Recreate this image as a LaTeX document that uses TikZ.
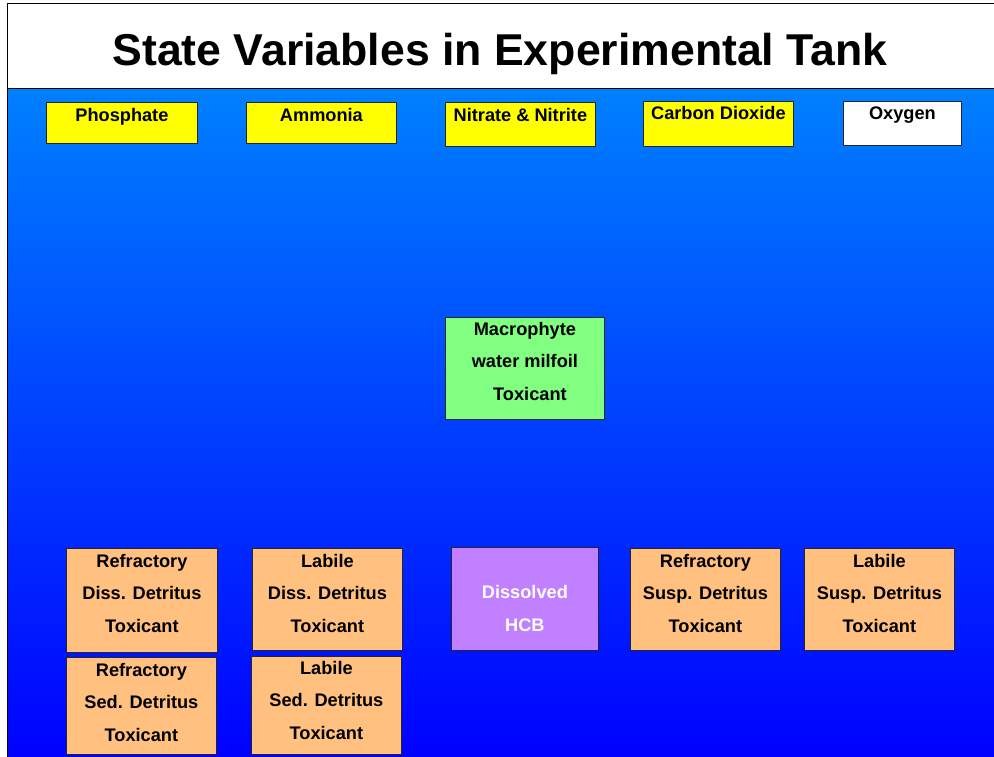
\documentclass[tikz,border=0pt]{standalone}
\usepackage{fontspec}
\setmainfont{Liberation Sans}
\usepackage{xcolor}
\usepackage{tikz}

\definecolor{tanktop}{RGB}{0,128,255}
\definecolor{tankbottom}{RGB}{0,0,255}
\definecolor{nutrient}{RGB}{255,255,0}
\definecolor{detritus}{RGB}{255,192,128}
\definecolor{plant}{RGB}{128,255,128}
\definecolor{dissolved}{RGB}{192,128,255}

\begin{document}
\begin{tikzpicture}[x=1pt,y=-1pt,
    box/.style={draw=black!85,line width=0.8pt,inner sep=0pt,anchor=north west,
      align=center,font=\fontsize{18.2}{32.5}\selectfont\bfseries},
    topbox/.style={box,fill=nutrient,text height=19pt},
    detbox/.style={box,fill=detritus,minimum width=150pt,text height=84pt}]
  \useasboundingbox (0,0) rectangle (994,757);
  \clip (0,0) rectangle (994,757);
  % tank and title band
  \fill[white] (0,0) rectangle (994,757);
  \shade[top color=tanktop,bottom color=tankbottom] (7,89) rectangle (1000,760);
  \draw[black,line width=1pt] (7,4) rectangle (1000,760);
  \draw[black,line width=1pt] (7,89) -- (1000,89);
  \node[anchor=base,font=\fontsize{44.6}{50}\selectfont\bfseries] (title) at (500,66)
    {State Variables in Experimental Tank};

  % nutrients
  \node[topbox,minimum width=151pt,text depth=22pt] (phosphate) at (46,102) {Phosphate};
  \node[topbox,minimum width=150pt,text depth=22pt] (ammonia) at (246,102) {Ammonia};
  \node[topbox,minimum width=150pt,text depth=25pt] (nitrate) at (445,102) {Nitrate \& Nitrite};
  \node[topbox,minimum width=150pt,text height=18pt,text depth=27pt] (carbondioxide) at (643,101) {Carbon Dioxide};
  \node[topbox,fill=white,minimum width=118pt,text height=18pt,text depth=26pt] (oxygen) at (843,101) {Oxygen};

  % plant
  \node[box,fill=plant,minimum width=159pt,text height=83pt,text depth=19pt] (macrophyte) at (445,317)
    {Macrophyte\\water milfoil\\\ \ Toxicant};

  % dissolved and suspended
  \node[detbox,minimum width=151pt,text depth=20pt] (refdiss) at (66,548)
    {Refractory\\Diss. Detritus\\Toxicant};
  \node[detbox,text depth=18pt] (labdiss) at (252,548)
    {Labile\\Diss. Detritus\\Toxicant};
  \node[box,fill=dissolved,text=white,minimum width=147pt,text height=84pt,text depth=19pt] (hcb) at (451,547)
    {Dissolved\\HCB};
  \node[detbox,text depth=18pt] (refsusp) at (630,548)
    {Refractory\\Susp. Detritus\\Toxicant};
  \node[detbox,text depth=18pt] (labsusp) at (804,548)
    {Labile\\Susp. Detritus\\Toxicant};

  % sediment
  \node[detbox,text depth=13pt] (refsed) at (66,657)
    {Refractory\\Sed. Detritus\\Toxicant};
  \node[detbox,text height=83pt,text depth=15pt] (labsed) at (251,656)
    {Labile\\Sed. Detritus\\Toxicant};
\end{tikzpicture}
\end{document}
